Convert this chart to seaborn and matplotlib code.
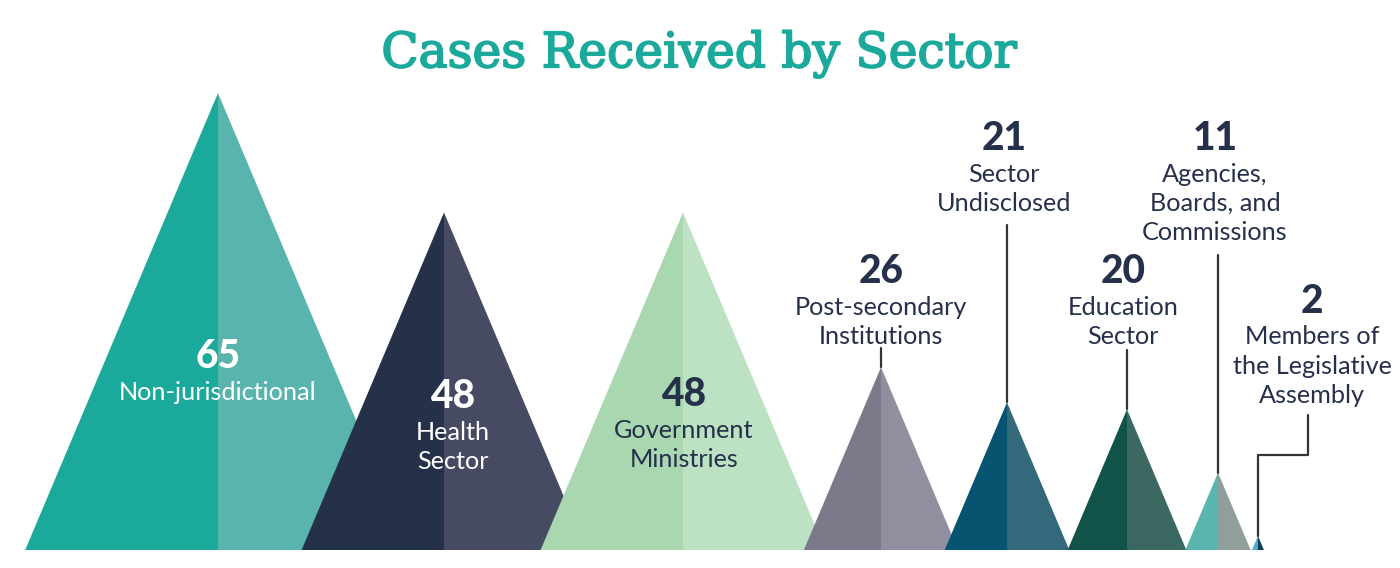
import matplotlib
matplotlib.use('Agg')
import matplotlib.pyplot as plt
import matplotlib.patheffects as pe
import seaborn as sns

sns.set_theme(style='white')
plt.rcParams['font.family'] = ['Lato', 'DejaVu Sans']

# data
sectors = ['Non-jurisdictional', 'Health\nSector', 'Government\nMinistries',
           'Post-secondary\nInstitutions', 'Sector\nUndisclosed',
           'Education\nSector', 'Agencies,\nBoards, and\nCommissions',
           'Members of\nthe Legislative\nAssembly']
cases = [65, 48, 48, 26, 21, 20, 11, 2]

# colours: darker left half, lighter right half
left_cols = ['#1aa99b', '#253049', '#a9d8b0', '#7b7a8b',
             '#06546f', '#115249', '#5ab5ae', '#4aa9d5']
right_cols = ['#5ab4ae', '#464a62', '#bce2c3', '#908f9f',
              '#33697b', '#3b6962', '#909f9b', '#0e3e50']

# layout (pixels from left / from top)
centers = [218, 444, 683, 881, 1007, 1127, 1218, 1258]
label_x = [218, 453, 684, 881, 1004, 1123, 1215, 1312]
label_top = [356, 396, 394, 271, 138, 271, 138, 301]
text_cols = ['white', 'white', '#25304a'] + ['#25304a'] * 5

BASE = 550      # baseline, px from top
SCALE = 7.03    # px per case
SLOPE = 0.422   # half-width / height


def py(y):
    # pixel row -> data y
    return (BASE - y) / SCALE


fig = plt.figure(figsize=(14, 5.68), dpi=100)
ax = fig.add_axes([0, 0, 1, 1])
ax.set_xlim(0, 1400)
ax.set_ylim(py(568), py(0))
ax.axis('off')

for i, v in enumerate(cases):
    c = centers[i]
    hw = SLOPE * SCALE * v
    ax.fill([c - hw, c, c], [0, v, 0], color=left_cols[i], lw=0)
    ax.fill([c, c, c + hw], [0, v, 0], color=right_cols[i], lw=0)

# labels
for i, (name, v) in enumerate(zip(sectors, cases)):
    x = label_x[i]
    y0 = label_top[i]
    ax.text(x, py(y0), str(v), ha='center', va='center', fontsize=28,
            fontweight='black', color=text_cols[i])
    for k, line in enumerate(name.split('\n')):
        ax.text(x, py(y0 + 36 + 29.3 * k), line, ha='center', va='center',
                fontsize=18.2, color=text_cols[i])

# leader lines
lc = '#333333'
lines = [(3, 348), (4, 225), (5, 350), (6, 255)]
for i, ytop in lines:
    ax.plot([centers[i], centers[i]], [py(ytop), cases[i]], color=lc, lw=1.6)
ax.plot([1308, 1308, 1258, 1258], [py(415), py(455), py(455), cases[7]],
        color=lc, lw=1.6)

ax.text(699, py(54), 'Cases Received by Sector', ha='center', va='center',
        fontsize=35, color='#1aa99b', family='DejaVu Serif',
        path_effects=[pe.withStroke(linewidth=1.3, foreground='#1aa99b')])

plt.savefig('out.png', dpi=100)
